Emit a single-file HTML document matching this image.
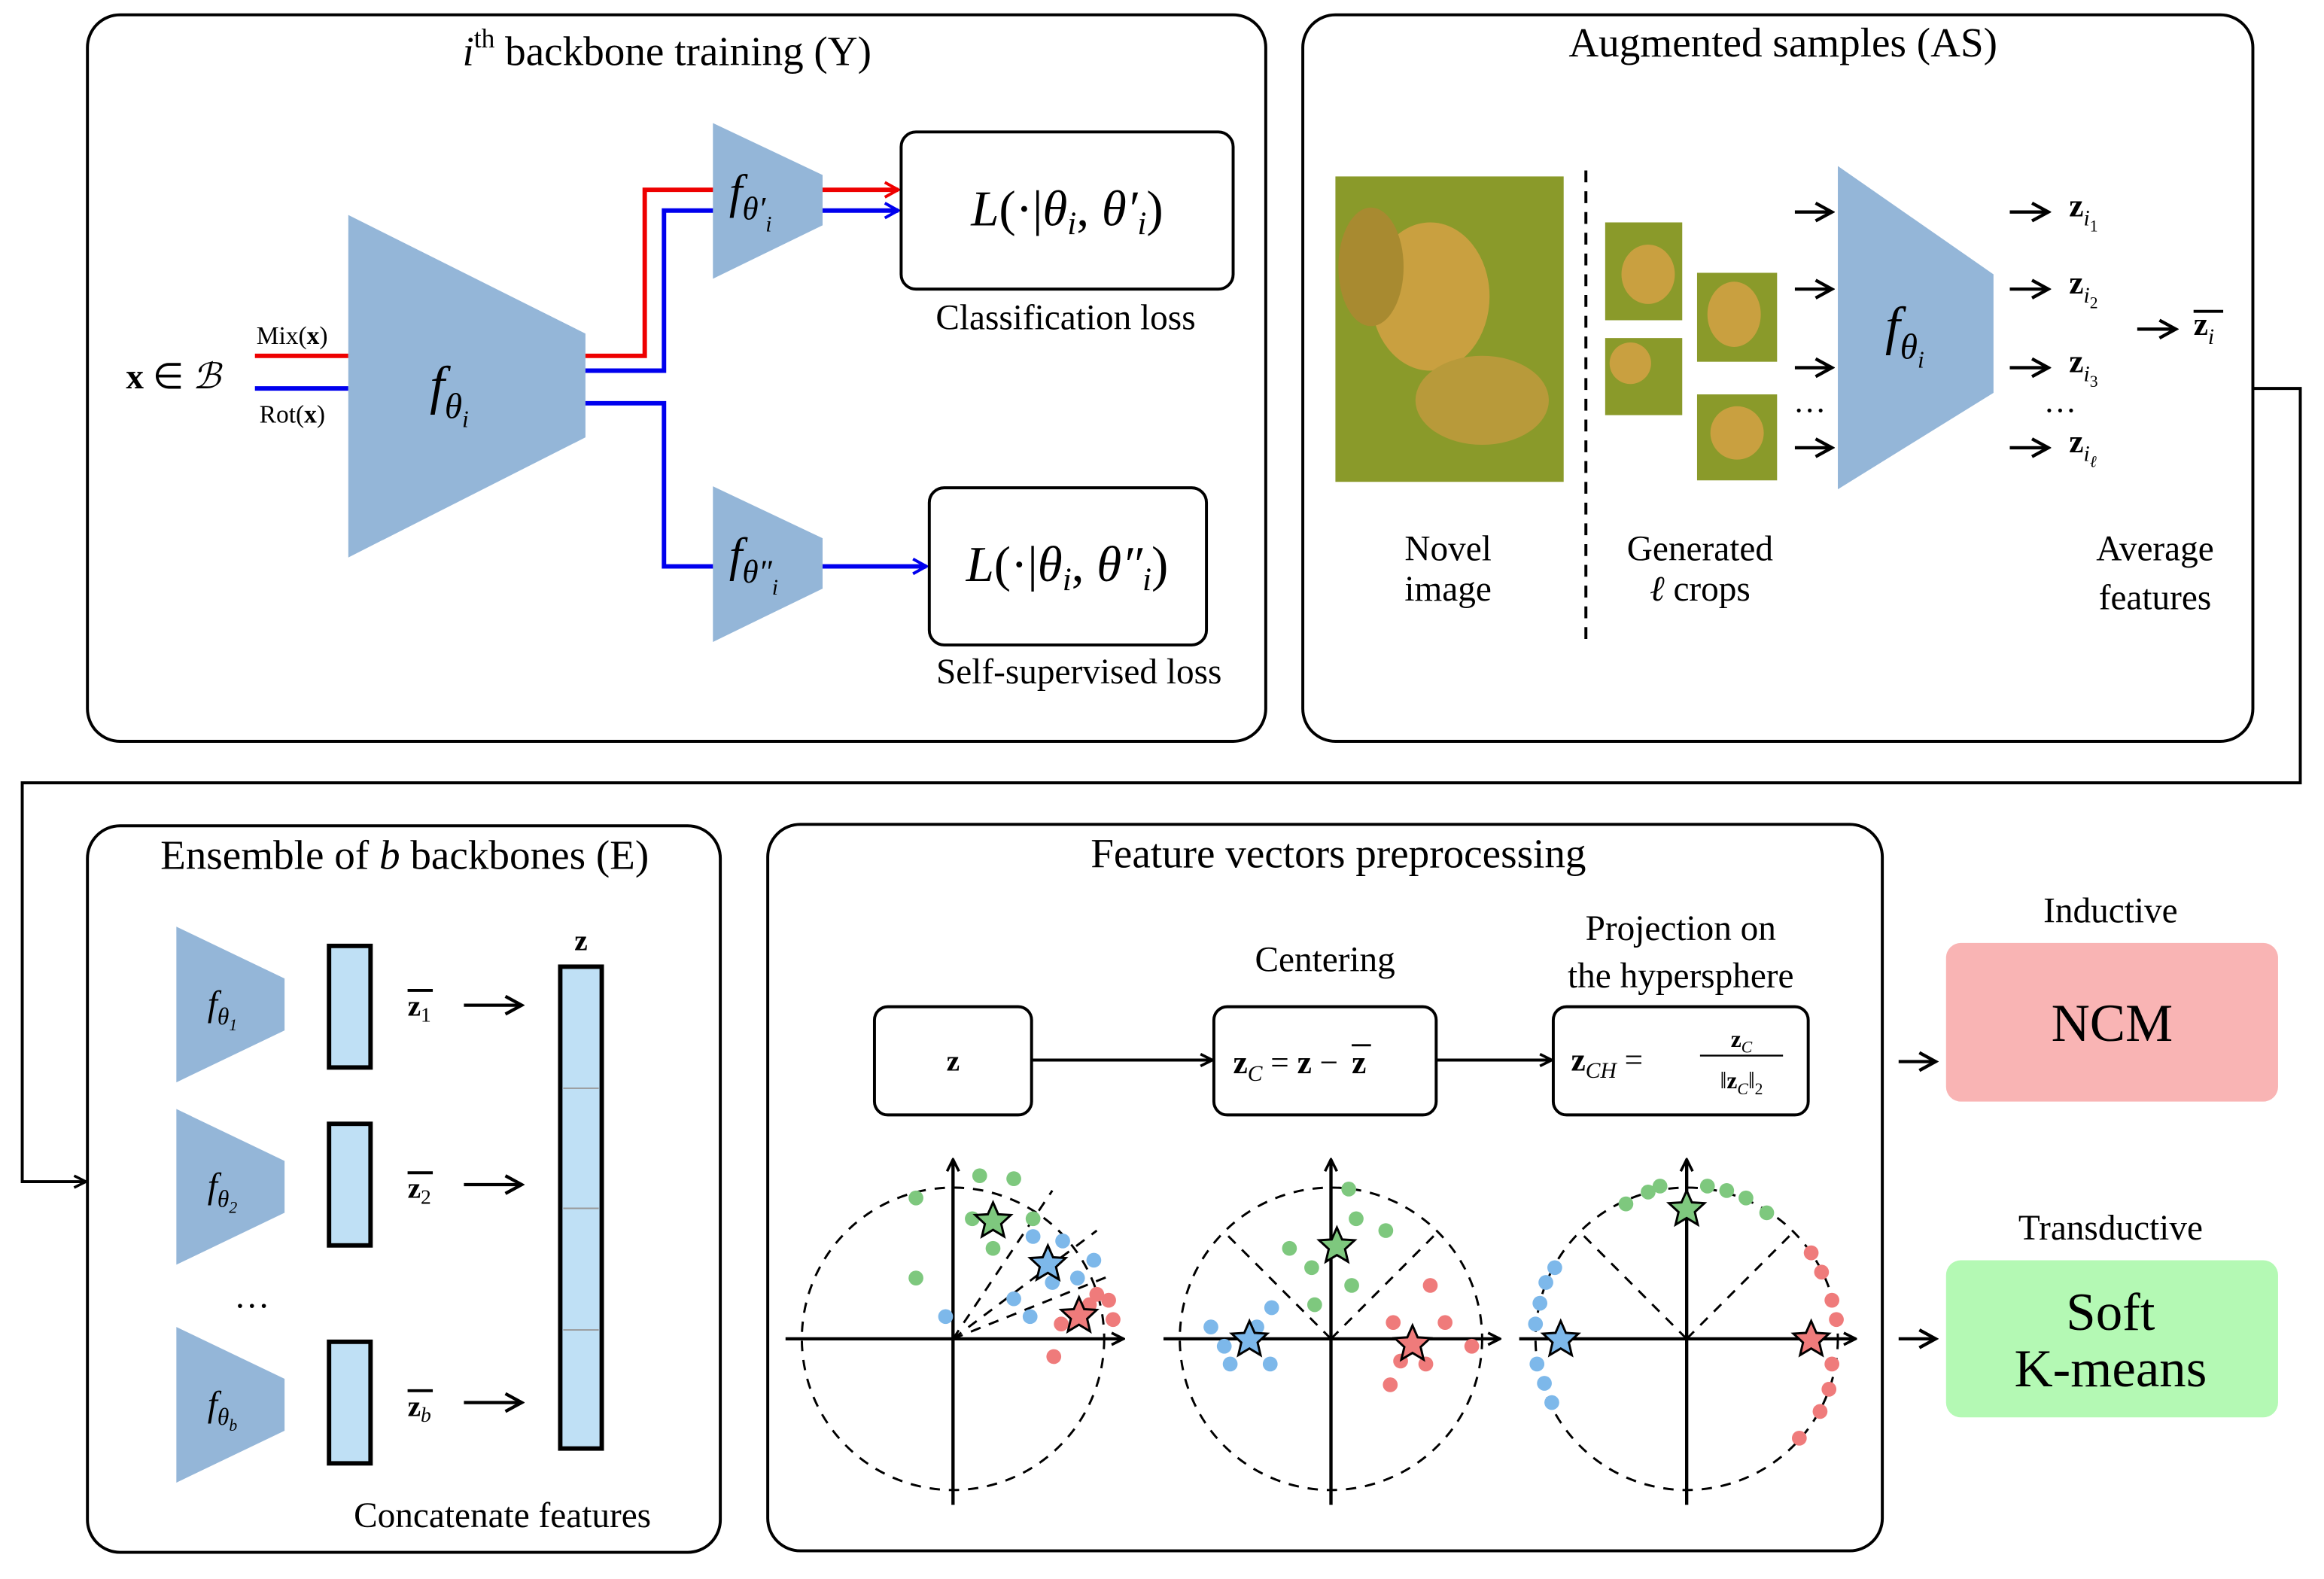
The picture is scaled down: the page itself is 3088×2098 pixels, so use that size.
<!DOCTYPE html>
<html><head><meta charset="utf-8"><style>
html,body{margin:0;padding:0;background:#fff;}
svg{display:block;}
text{font-family:"Liberation Serif",serif;fill:#000;}
</style></head><body>
<svg width="3088" height="2098" viewBox="0 0 1568 1065" preserveAspectRatio="none" xmlns="http://www.w3.org/2000/svg">
<defs>
<marker id="ab" markerWidth="10" markerHeight="10" refX="9" refY="5" orient="auto" markerUnits="userSpaceOnUse"><path d="M1,1 L9,5 L1,9" fill="none" stroke="#000" stroke-width="1.8"/></marker>
<marker id="ar" markerWidth="12" markerHeight="12" refX="10" refY="6" orient="auto" markerUnits="userSpaceOnUse"><path d="M1,1 L10,6 L1,11" fill="none" stroke="#e00" stroke-width="2"/></marker>
<marker id="abl" markerWidth="12" markerHeight="12" refX="10" refY="6" orient="auto" markerUnits="userSpaceOnUse"><path d="M1,1 L10,6 L1,11" fill="none" stroke="#00e" stroke-width="2"/></marker>
<marker id="ak" markerWidth="14" markerHeight="14" refX="12" refY="7" orient="auto" markerUnits="userSpaceOnUse"><path d="M1,1 L12,7 L1,13" fill="none" stroke="#000" stroke-width="2.2"/></marker>
</defs>
<g fill="none" stroke="#000" stroke-width="2">
<rect x="59" y="10" width="795" height="490" rx="22"/>
<rect x="879" y="10" width="641" height="490" rx="22"/>
<rect x="59" y="557" width="427" height="490" rx="22"/>
<rect x="518" y="556" width="752" height="490" rx="22"/>
</g>
<text x="450" y="44" font-size="28" text-anchor="middle"><tspan font-style="italic">i</tspan><tspan font-size="18" dy="-12">th</tspan><tspan dy="12"> backbone training (Y)</tspan></text>
<text x="85" y="262" font-size="24"><tspan font-weight="bold">x</tspan> ∈ <tspan font-style="italic">ℬ</tspan></text>
<text x="173" y="232" font-size="17">Mix(<tspan font-weight="bold">x</tspan>)</text>
<text x="175" y="285" font-size="17">Rot(<tspan font-weight="bold">x</tspan>)</text>
<line x1="172" y1="240" x2="235" y2="240" stroke="#e00" stroke-width="3"/>
<line x1="172" y1="262" x2="235" y2="262" stroke="#00e" stroke-width="3"/>
<polygon points="235,145 395,225 395,295 235,376" fill="#94b6d8"/>
<text x="290" y="272" font-size="36" font-style="italic">f<tspan font-size="24" dy="10">θ</tspan><tspan font-size="16" dy="6">i</tspan></text>
<polyline points="395,240 435,240 435,128 606,128" fill="none" stroke="#e00" stroke-width="3" marker-end="url(#ar)"/>
<polyline points="395,250 448,250 448,142 606,142" fill="none" stroke="#00e" stroke-width="3" marker-end="url(#abl)"/>
<polyline points="395,272 448,272 448,382 625,382" fill="none" stroke="#00e" stroke-width="3" marker-end="url(#abl)"/>
<polygon points="481,83 555,118 555,152 481,188" fill="#94b6d8"/>
<text x="492" y="140" font-size="32" font-style="italic">f<tspan font-size="22" dy="8">θ′</tspan><tspan font-size="15" dy="8">i</tspan></text>
<polygon points="481,328 555,363 555,397 481,433" fill="#94b6d8"/>
<text x="492" y="385" font-size="32" font-style="italic">f<tspan font-size="22" dy="8">θ″</tspan><tspan font-size="15" dy="8">i</tspan></text>
<rect x="608" y="89" width="224" height="106" rx="10" fill="#fff" stroke="#000" stroke-width="2"/>
<text x="720" y="152" font-size="34" text-anchor="middle"><tspan font-style="italic">L</tspan>(·|<tspan font-style="italic">θ<tspan font-size="22" dy="6">i</tspan></tspan><tspan dy="-6">, </tspan><tspan font-style="italic">θ′<tspan font-size="22" dy="6">i</tspan></tspan><tspan dy="-6">)</tspan></text>
<text x="719" y="222" font-size="24" text-anchor="middle">Classification loss</text>
<rect x="627" y="329" width="187" height="106" rx="10" fill="#fff" stroke="#000" stroke-width="2"/>
<text x="720" y="392" font-size="34" text-anchor="middle"><tspan font-style="italic">L</tspan>(·|<tspan font-style="italic">θ<tspan font-size="22" dy="6">i</tspan></tspan><tspan dy="-6">, </tspan><tspan font-style="italic">θ″<tspan font-size="22" dy="6">i</tspan></tspan><tspan dy="-6">)</tspan></text>
<text x="728" y="461" font-size="24" text-anchor="middle">Self-supervised loss</text>
<text x="1203" y="38" font-size="28" text-anchor="middle">Augmented samples (AS)</text>
<rect x="901" y="119" width="154" height="206" fill="#8a9a2a"/>
<ellipse cx="965" cy="200" rx="40" ry="50" fill="#c9a040"/>
<ellipse cx="1000" cy="270" rx="45" ry="30" fill="#b89a3a"/>
<ellipse cx="925" cy="180" rx="22" ry="40" fill="#a88a30"/>
<line x1="1070" y1="115" x2="1070" y2="435" stroke="#000" stroke-width="2" stroke-dasharray="8,6"/>
<rect x="1083" y="150" width="52" height="66" fill="#8a9a2a"/><ellipse cx="1112" cy="185" rx="18" ry="20" fill="#c9a040"/>
<rect x="1083" y="228" width="52" height="52" fill="#8a9a2a"/><ellipse cx="1100" cy="245" rx="14" ry="14" fill="#c9a040"/>
<rect x="1145" y="184" width="54" height="60" fill="#8a9a2a"/><ellipse cx="1170" cy="212" rx="18" ry="22" fill="#c9a040"/>
<rect x="1145" y="266" width="54" height="58" fill="#8a9a2a"/><ellipse cx="1172" cy="292" rx="18" ry="18" fill="#c9a040"/>
<g stroke="#000" stroke-width="2.2" marker-end="url(#ak)">
<line x1="1211" y1="143" x2="1236" y2="143"/><line x1="1211" y1="195" x2="1236" y2="195"/>
<line x1="1211" y1="248" x2="1236" y2="248"/><line x1="1211" y1="302" x2="1236" y2="302"/>
<line x1="1356" y1="143" x2="1382" y2="143"/><line x1="1356" y1="195" x2="1382" y2="195"/>
<line x1="1356" y1="248" x2="1382" y2="248"/><line x1="1356" y1="302" x2="1382" y2="302"/>
<line x1="1442" y1="222" x2="1468" y2="222"/>
</g>
<text x="1221" y="278" font-size="22" text-anchor="middle">…</text>
<text x="1390" y="278" font-size="22" text-anchor="middle">…</text>
<polygon points="1240,112 1345,185 1345,265 1240,330" fill="#94b6d8"/>
<text x="1272" y="232" font-size="36" font-style="italic">f<tspan font-size="24" dy="10">θ</tspan><tspan font-size="16" dy="6">i</tspan></text>
<g font-size="22" font-weight="bold">
<text x="1396" y="146">z<tspan font-size="15" font-style="italic" font-weight="normal" dy="6">i</tspan><tspan font-size="11" font-weight="normal" dy="4">1</tspan></text>
<text x="1396" y="198">z<tspan font-size="15" font-style="italic" font-weight="normal" dy="6">i</tspan><tspan font-size="11" font-weight="normal" dy="4">2</tspan></text>
<text x="1396" y="251">z<tspan font-size="15" font-style="italic" font-weight="normal" dy="6">i</tspan><tspan font-size="11" font-weight="normal" dy="4">3</tspan></text>
<text x="1396" y="305">z<tspan font-size="15" font-style="italic" font-weight="normal" dy="6">i</tspan><tspan font-size="11" font-style="italic" font-weight="normal" dy="4">ℓ</tspan></text>
<text x="1480" y="226">z<tspan font-size="15" font-style="italic" font-weight="normal" dy="6">i</tspan></text>
</g>
<line x1="1480" y1="210" x2="1500" y2="210" stroke="#000" stroke-width="2"/>
<g font-size="24" text-anchor="middle">
<text x="977" y="378">Novel</text><text x="977" y="405">image</text>
<text x="1147" y="378">Generated</text><text x="1147" y="405"><tspan font-style="italic">ℓ</tspan> crops</text>
<text x="1454" y="378">Average</text><text x="1454" y="411">features</text>
</g>
<polyline points="1520,262 1552,262 1552,528 15,528 15,797 58,797" fill="none" stroke="#000" stroke-width="2" marker-end="url(#ab)"/>
<text x="273" y="586" font-size="28" text-anchor="middle">Ensemble of <tspan font-style="italic">b</tspan> backbones (E)</text>
<g fill="#94b6d8">
<polygon points="119,625 192,660 192,695 119,730"/>
<polygon points="119,748 192,783 192,818 119,853"/>
<polygon points="119,895 192,930 192,965 119,1000"/>
</g>
<g font-size="24" font-style="italic">
<text x="140" y="685">f<tspan font-size="16" dy="6">θ</tspan><tspan font-size="11" dy="4">1</tspan></text>
<text x="140" y="808">f<tspan font-size="16" dy="6">θ</tspan><tspan font-size="11" dy="4">2</tspan></text>
<text x="140" y="955">f<tspan font-size="16" dy="6">θ</tspan><tspan font-size="11" dy="4">b</tspan></text>
</g>
<text x="170" y="882" font-size="24" text-anchor="middle">…</text>
<g fill="#bfe0f5" stroke="#000" stroke-width="3">
<rect x="222" y="638" width="28" height="82"/><rect x="222" y="758" width="28" height="82"/><rect x="222" y="905" width="28" height="82"/>
<rect x="378" y="652" width="28" height="325"/>
</g>
<g stroke="#999" stroke-width="1"><line x1="380" y1="734" x2="404" y2="734"/><line x1="380" y1="815" x2="404" y2="815"/><line x1="380" y1="897" x2="404" y2="897"/></g>
<text x="392" y="641" font-size="20" font-weight="bold" text-anchor="middle">z</text>
<g font-size="20" font-weight="bold">
<text x="275" y="685">z<tspan font-size="14" font-weight="normal" dy="4">1</tspan></text>
<text x="275" y="808">z<tspan font-size="14" font-weight="normal" dy="4">2</tspan></text>
<text x="275" y="955">z<tspan font-size="14" font-style="italic" font-weight="normal" dy="4">b</tspan></text>
</g>
<g stroke="#000" stroke-width="2"><line x1="275" y1="668" x2="292" y2="668"/><line x1="275" y1="791" x2="292" y2="791"/><line x1="275" y1="938" x2="292" y2="938"/></g>
<g stroke="#000" stroke-width="2.2" marker-end="url(#ak)">
<line x1="313" y1="678" x2="352" y2="678"/><line x1="313" y1="799" x2="352" y2="799"/><line x1="313" y1="946" x2="352" y2="946"/>
</g>
<text x="339" y="1030" font-size="24" text-anchor="middle">Concatenate features</text>
<text x="903" y="585" font-size="28" text-anchor="middle">Feature vectors preprocessing</text>
<text x="894" y="655" font-size="24" text-anchor="middle">Centering</text>
<text x="1134" y="634" font-size="24" text-anchor="middle">Projection on</text>
<text x="1134" y="666" font-size="24" text-anchor="middle">the hypersphere</text>
<g fill="#fff" stroke="#000" stroke-width="2">
<rect x="590" y="679" width="106" height="73" rx="9"/>
<rect x="819" y="679" width="150" height="73" rx="9"/>
<rect x="1048" y="679" width="172" height="73" rx="9"/>
</g>
<text x="643" y="722" font-size="20" font-weight="bold" text-anchor="middle">z</text>
<text x="832" y="724" font-size="22"><tspan font-weight="bold">z</tspan><tspan font-size="15" font-style="italic" dy="5">C</tspan><tspan dy="-5"> = </tspan><tspan font-weight="bold">z</tspan> −</text>
<text x="912" y="724" font-size="22" font-weight="bold">z</text>
<line x1="912" y1="705" x2="925" y2="705" stroke="#000" stroke-width="1.5"/>
<text x="1060" y="722" font-size="22"><tspan font-weight="bold">z</tspan><tspan font-size="15" font-style="italic" dy="5">CH</tspan><tspan dy="-5"> =</tspan></text>
<text x="1175" y="706" font-size="16" text-anchor="middle"><tspan font-weight="bold">z</tspan><tspan font-size="11" font-style="italic" dy="4">C</tspan></text>
<line x1="1147" y1="712" x2="1203" y2="712" stroke="#000" stroke-width="1.2"/>
<text x="1175" y="734" font-size="16" text-anchor="middle">‖<tspan font-weight="bold">z</tspan><tspan font-size="11" font-style="italic" dy="4">C</tspan><tspan dy="-4">‖</tspan><tspan font-size="11" dy="4">2</tspan></text>
<g stroke="#000" stroke-width="2" marker-end="url(#ab)">
<line x1="696" y1="715" x2="818" y2="715"/><line x1="969" y1="715" x2="1047" y2="715"/>
</g>
<g fill="none" stroke="#000" stroke-width="1.5" stroke-dasharray="7,6">
<circle cx="643" cy="903" r="102"/><circle cx="898" cy="903" r="102"/><circle cx="1138" cy="903" r="102"/>
<line x1="643" y1="903" x2="710" y2="803"/><line x1="643" y1="903" x2="750" y2="860"/><line x1="643" y1="903" x2="740" y2="830"/>
<line x1="898" y1="903" x2="825" y2="830"/><line x1="898" y1="903" x2="971" y2="830"/>
<line x1="1138" y1="903" x2="1065" y2="830"/><line x1="1138" y1="903" x2="1211" y2="830"/>
</g>
<g stroke="#000" stroke-width="2.2" marker-end="url(#ab)">
<line x1="530" y1="903" x2="758" y2="903"/><line x1="643" y1="1015" x2="643" y2="782"/>
<line x1="785" y1="903" x2="1012" y2="903"/><line x1="898" y1="1015" x2="898" y2="782"/>
<line x1="1025" y1="903" x2="1252" y2="903"/><line x1="1138" y1="1015" x2="1138" y2="782"/>
</g>
<g fill="#7ec87e">
<circle cx="618" cy="808" r="5"/><circle cx="656" cy="822" r="5"/><circle cx="661" cy="793" r="5"/><circle cx="684" cy="795" r="5"/><circle cx="670" cy="842" r="5"/><circle cx="697" cy="822" r="5"/><circle cx="618" cy="862" r="5"/>
<circle cx="870" cy="842" r="5"/><circle cx="885" cy="855" r="5"/><circle cx="910" cy="802" r="5"/><circle cx="912" cy="867" r="5"/><circle cx="887" cy="880" r="5"/><circle cx="935" cy="830" r="5"/><circle cx="915" cy="822" r="5"/>
<circle cx="1097" cy="812" r="5"/><circle cx="1112" cy="804" r="5"/><circle cx="1120" cy="800" r="5"/><circle cx="1152" cy="800" r="5"/><circle cx="1165" cy="803" r="5"/><circle cx="1178" cy="808" r="5"/><circle cx="1192" cy="818" r="5"/>
</g>
<g fill="#7db8ea">
<circle cx="697" cy="834" r="5"/><circle cx="717" cy="837" r="5"/><circle cx="727" cy="862" r="5"/><circle cx="738" cy="850" r="5"/><circle cx="710" cy="865" r="5"/><circle cx="684" cy="876" r="5"/><circle cx="638" cy="888" r="5"/><circle cx="695" cy="888" r="5"/>
<circle cx="817" cy="895" r="5"/><circle cx="830" cy="920" r="5"/><circle cx="857" cy="920" r="5"/><circle cx="858" cy="882" r="5"/><circle cx="848" cy="895" r="5"/><circle cx="826" cy="908" r="5"/>
<circle cx="1049" cy="855" r="5"/><circle cx="1043" cy="865" r="5"/><circle cx="1039" cy="879" r="5"/><circle cx="1036" cy="893" r="5"/><circle cx="1037" cy="920" r="5"/><circle cx="1042" cy="933" r="5"/><circle cx="1047" cy="946" r="5"/>
</g>
<g fill="#ef7b7b">
<circle cx="748" cy="877" r="5"/><circle cx="751" cy="890" r="5"/><circle cx="740" cy="873" r="5"/><circle cx="716" cy="893" r="5"/><circle cx="711" cy="915" r="5"/><circle cx="735" cy="880" r="5"/>
<circle cx="940" cy="892" r="5"/><circle cx="965" cy="867" r="5"/><circle cx="975" cy="892" r="5"/><circle cx="962" cy="920" r="5"/><circle cx="938" cy="934" r="5"/><circle cx="993" cy="908" r="5"/><circle cx="945" cy="918" r="5"/>
<circle cx="1222" cy="845" r="5"/><circle cx="1229" cy="858" r="5"/><circle cx="1236" cy="877" r="5"/><circle cx="1239" cy="890" r="5"/><circle cx="1236" cy="920" r="5"/><circle cx="1234" cy="937" r="5"/><circle cx="1228" cy="952" r="5"/><circle cx="1214" cy="970" r="5"/>
</g>
<g stroke="#000" stroke-width="1.5">
<polygon fill="#7ec87e" transform="translate(670,823)" points="0,-12 3.5,-4 12,-3.5 5.5,2.5 7.5,11 0,6.5 -7.5,11 -5.5,2.5 -12,-3.5 -3.5,-4"/>
<polygon fill="#7db8ea" transform="translate(707,852)" points="0,-12 3.5,-4 12,-3.5 5.5,2.5 7.5,11 0,6.5 -7.5,11 -5.5,2.5 -12,-3.5 -3.5,-4"/>
<polygon fill="#ef7b7b" transform="translate(728,887)" points="0,-12 3.5,-4 12,-3.5 5.5,2.5 7.5,11 0,6.5 -7.5,11 -5.5,2.5 -12,-3.5 -3.5,-4"/>
<polygon fill="#7ec87e" transform="translate(902,840)" points="0,-12 3.5,-4 12,-3.5 5.5,2.5 7.5,11 0,6.5 -7.5,11 -5.5,2.5 -12,-3.5 -3.5,-4"/>
<polygon fill="#7db8ea" transform="translate(843,903)" points="0,-12 3.5,-4 12,-3.5 5.5,2.5 7.5,11 0,6.5 -7.5,11 -5.5,2.5 -12,-3.5 -3.5,-4"/>
<polygon fill="#ef7b7b" transform="translate(953,906)" points="0,-12 3.5,-4 12,-3.5 5.5,2.5 7.5,11 0,6.5 -7.5,11 -5.5,2.5 -12,-3.5 -3.5,-4"/>
<polygon fill="#7ec87e" transform="translate(1138,815)" points="0,-12 3.5,-4 12,-3.5 5.5,2.5 7.5,11 0,6.5 -7.5,11 -5.5,2.5 -12,-3.5 -3.5,-4"/>
<polygon fill="#7db8ea" transform="translate(1053,903)" points="0,-12 3.5,-4 12,-3.5 5.5,2.5 7.5,11 0,6.5 -7.5,11 -5.5,2.5 -12,-3.5 -3.5,-4"/>
<polygon fill="#ef7b7b" transform="translate(1222,903)" points="0,-12 3.5,-4 12,-3.5 5.5,2.5 7.5,11 0,6.5 -7.5,11 -5.5,2.5 -12,-3.5 -3.5,-4"/>
</g>
<text x="1424" y="622" font-size="24" text-anchor="middle">Inductive</text>
<rect x="1313" y="636" width="224" height="107" rx="10" fill="#f9b4b4"/>
<text x="1425" y="702" font-size="36" text-anchor="middle">NCM</text>
<text x="1424" y="836" font-size="24" text-anchor="middle">Transductive</text>
<rect x="1313" y="850" width="224" height="106" rx="10" fill="#b4f9b4"/>
<text x="1424" y="897" font-size="36" text-anchor="middle">Soft</text>
<text x="1424" y="935" font-size="36" text-anchor="middle">K-means</text>
<g stroke="#000" stroke-width="2.2" marker-end="url(#ak)">
<line x1="1281" y1="716" x2="1306" y2="716"/><line x1="1281" y1="903" x2="1306" y2="903"/>
</g>
</svg>
</body></html>
